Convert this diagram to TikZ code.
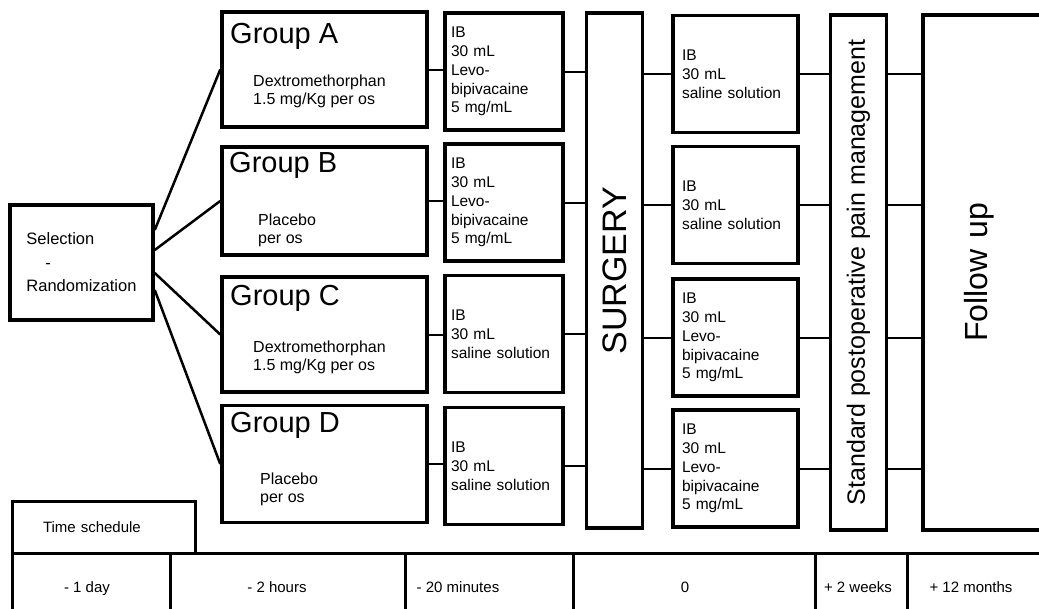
\documentclass[tikz,border=0pt]{standalone}
\usepackage{fontspec}
\setmainfont{Liberation Sans}
\usepackage{graphicx}
\usetikzlibrary{positioning}

\begin{document}
\begin{tikzpicture}[x=1pt, y=-1pt,
  box/.style={draw, line width=3.5pt, inner sep=0pt},
  grp/.style={box, minimum width=205pt, minimum height=112pt},
  ibl/.style={box, align=left, text width=106pt, inner xsep=6pt,
              minimum height=117pt, font=\fontsize{15.5}{18.8}\selectfont},
  ibr/.style={box, align=left, text width=107pt, inner xsep=9pt,
              minimum height=117pt, font=\fontsize{15.5}{18.8}\selectfont},
  bar/.style={box, minimum width=56pt, minimum height=515pt},
  ttl/.style={anchor=base west, inner sep=0pt, font=\fontsize{29}{30}\selectfont},
  txt/.style={anchor=base west, inner sep=0pt, align=left,
              font=\fontsize{16}{17.5}\selectfont},
  tlbl/.style={anchor=base, inner sep=0pt, font=\fontsize{15}{16}\selectfont},
  tline/.style={line width=3pt},
  arr/.style={line width=2pt},
  fan/.style={line width=2.5pt}]

  \useasboundingbox (0,0) rectangle (1039,608);
  \clip (0,0) rectangle (1039,608);

  % randomisation
  \node[box, minimum width=143pt, minimum height=115pt, align=left,
        font=\fontsize{16.5}{23.5}\selectfont] (sel) at (81.5,262.5)
       {Selection\\\hspace*{19pt}-\\Randomization};

  % groups
  \node[grp, minimum height=115pt] (ga) at (324.5,69.5) {};
  \node[grp, minimum height=108pt] (gb) at (324.5,201) {};
  \node[grp, minimum height=115pt] (gc) at (324.5,334.5) {};
  \node[grp, minimum height=117pt] (gd) at (324.5,464) {};

  \node[ttl] (ga-t) at (230,43) {Group A};
  \node[ttl] (gb-t) at (229,172) {Group B};
  \node[ttl] (gc-t) at (230,305) {Group C};
  \node[ttl] (gd-t) at (230,432) {Group D};

  % base of the last line
  \node[txt] (ga-b) at (253,104) {Dextromethorphan\\1.5 mg/Kg per os};
  \node[txt] (gb-b) at (258,243) {Placebo\\per os};
  \node[txt] (gc-b) at (253,370) {Dextromethorphan\\1.5 mg/Kg per os};
  \node[txt] (gd-b) at (260,502) {Placebo\\per os};

  % block before surgery
  \node[ibl] (ia) at (504,71.5) {IB\\30 mL\\Levo-\\bipivacaine\\5 mg/mL};
  \node[ibl] (ib) at (504,202.5) {IB\\30 mL\\Levo-\\bipivacaine\\5 mg/mL};
  \node[ibl] (ic) at (504,334) {IB\\30 mL\\saline solution};
  \node[ibl] (id) at (504,466) {IB\\30 mL\\saline solution};

  \node[bar, font=\fontsize{34}{36}\selectfont] (surg) at (614.5,270.5)
       {\rotatebox{90}{SURGERY}};

  % block after surgery
  \node[ibr] (ca) at (735.5,74) {IB\\30 mL\\saline solution};
  \node[ibr] (cb) at (735.5,205) {IB\\30 mL\\saline solution};
  \node[ibr] (cc) at (735.5,337.5) {IB\\30 mL\\Levo-\\bipivacaine\\5 mg/mL};
  \node[ibr] (cd) at (735.5,468.5) {IB\\30 mL\\Levo-\\bipivacaine\\5 mg/mL};

  \node[bar, font=\fontsize{25}{26}\selectfont] (std) at (858.5,272.5)
       {\rotatebox{90}{Standard postoperative pain management}};

  \node[box, minimum height=515pt, align=left, text width=60pt,
        inner xsep=41pt, font=\fontsize{32}{34}\selectfont] (fu) at (994,272.5)
       {\rotatebox{90}{Follow up}};

  % connectors
  \draw[fan] ([yshift=32.5pt]sel.east) -- (ga.west);
  \draw[fan] ([yshift=12.5pt]sel.east) -- (gb.west);
  \draw[fan] ([yshift=-10.5pt]sel.east) -- (gc.west);
  \draw[fan] ([yshift=-27.5pt]sel.east) -- (gd.west);

  \foreach \r in {a,b,c,d}{
    \draw[arr] (g\r.east) -- (g\r.east -| i\r.west);
    \draw[arr] (i\r.east) -- (i\r.east -| surg.west);
    \draw[arr] (c\r.west -| surg.east) -- (c\r.west);
    \draw[arr] (c\r.east) -- (c\r.east -| std.west);
    \draw[arr] (c\r.east -| std.east) -- (c\r.east -| fu.west);
  }

  % time schedule
  \node[box, line width=3pt, minimum height=52pt, align=left, text width=121pt,
        inner xsep=31pt, font=\fontsize{15}{16}\selectfont] (tsch) at (103.5,527)
       {Time schedule};
  \draw[tline] (12,553) -- (1060,553);
  \foreach \x in {12,170,405,573,815,907}
    \draw[tline] (\x,553) -- (\x,620);

  \foreach \x/\t [count=\i] in {87/{- 1 day}, 277/{- 2 hours},
      458/{- 20 minutes}, 685/0, 858/{+ 2 weeks}, 971/{+ 12 months}}
    \node[tlbl] (t\i) at (\x,592) {\t};
\end{tikzpicture}
\end{document}
